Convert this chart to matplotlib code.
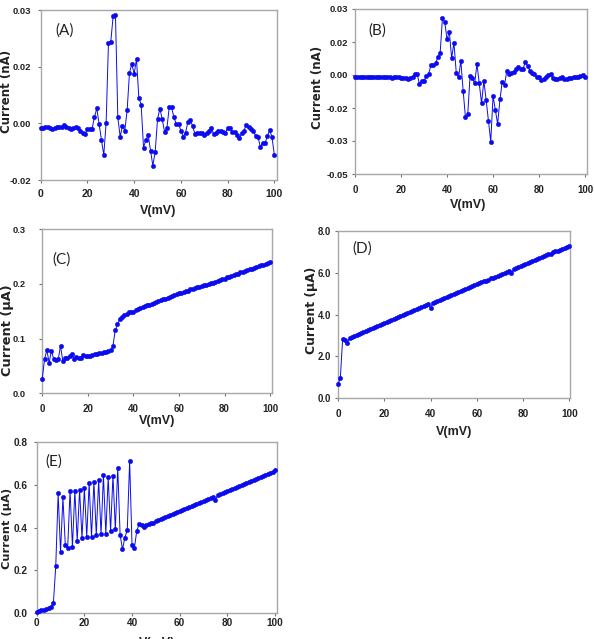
import matplotlib
matplotlib.use('Agg')
import matplotlib.pyplot as plt

W, H = 594, 639
fig = plt.figure(figsize=(W / 100, H / 100), dpi=100)

# ---------------- data ----------------
volts = list(range(0, 101))  # V (mV), 1 mV steps

cur_A = [-0.0013, -0.0013, -0.0009, -0.0011, -0.0013, -0.0016, -0.0013, -0.0009, -0.0011, -0.0009,
         -0.0005, -0.0009, -0.0013, -0.0016, -0.0013, -0.0011, -0.0013, -0.0019, -0.0025, -0.0029,
         -0.0016, -0.0016, -0.0014, 0.0016, 0.0040, -0.0002, -0.0044, -0.0084, 0.0002, 0.0212,
         0.0216, 0.0284, 0.0287, 0.0016, -0.0035, -0.0007, -0.0019, 0.0035, 0.0134, 0.0157,
         0.0131, 0.0170, 0.0068, 0.0049, -0.0064, -0.0044, -0.0031, -0.0072, -0.0112, -0.0075,
         0.0011, 0.0039, 0.0011, -0.0022, -0.0013, 0.0042, 0.0042, 0.0016, -0.0002, -0.0002,
         -0.0019, -0.0035, -0.0025, 0.0004, 0.0009, -0.0007, -0.0028, -0.0025, -0.0025, -0.0026,
         -0.0031, -0.0025, -0.0019, -0.0013, -0.0028, -0.0026, -0.0019, -0.0019, -0.0022, -0.0026,
         -0.0013, -0.0013, -0.0022, -0.0024, -0.0031, -0.0040, -0.0026, -0.0019, -0.0004, -0.0011,
         -0.0016, -0.0019, -0.0034, -0.0037, -0.0062, -0.0051, -0.0053, -0.0034, -0.0018, -0.0037,
         -0.0084]

cur_B = [-0.0010, -0.0008, -0.0008, -0.0009, -0.0008, -0.0010, -0.0009, -0.0010, -0.0011, -0.0010,
         -0.0011, -0.0010, -0.0009, -0.0009, -0.0010, -0.0011, -0.0012, -0.0010, -0.0008, -0.0011,
         -0.0013, -0.0012, -0.0013, -0.0016, -0.0015, -0.0010, 0.0004, 0.0004, -0.0041, -0.0027,
         -0.0026, -0.0005, 0.0004, 0.0045, 0.0045, 0.0053, 0.0080, 0.0098, 0.0258, 0.0242,
         0.0162, 0.0197, 0.0076, 0.0147, 0.0011, -0.0011, 0.0064, -0.0071, -0.0192, -0.0179,
         -0.0005, -0.0015, -0.0038, 0.0050, -0.0038, -0.0129, -0.0027, -0.0114, -0.0208, -0.0303,
         -0.0095, -0.0159, -0.0223, -0.0111, -0.0030, -0.0045, 0.0020, 0.0005, 0.0011, 0.0015,
         0.0026, 0.0038, 0.0027, 0.0027, 0.0058, 0.0041, 0.0020, 0.0011, 0.0004, -0.0011,
         -0.0011, -0.0023, -0.0018, -0.0008, 0.0000, 0.0004, -0.0015, -0.0018, -0.0018, -0.0012,
         -0.0011, -0.0018, -0.0020, -0.0012, -0.0012, -0.0008, -0.0011, -0.0008, -0.0003, 0.0000,
         -0.0008]

cur_C = [0.027, 0.063, 0.079, 0.056, 0.078, 0.063, 0.061, 0.062, 0.087, 0.059,
         0.064, 0.065, 0.068, 0.072, 0.063, 0.066, 0.064, 0.065, 0.070, 0.068,
         0.068, 0.069, 0.070, 0.071, 0.072, 0.073, 0.074, 0.075, 0.076, 0.077,
         0.079, 0.086, 0.115, 0.126, 0.136, 0.140, 0.143, 0.145, 0.148, 0.149,
         0.148, 0.152, 0.154, 0.156, 0.157, 0.159, 0.161, 0.162, 0.164, 0.166,
         0.167, 0.169, 0.170, 0.172, 0.173, 0.175, 0.177, 0.178, 0.180, 0.181,
         0.183, 0.184, 0.185, 0.187, 0.188, 0.190, 0.191, 0.192, 0.194, 0.195,
         0.197, 0.198, 0.199, 0.200, 0.202, 0.202, 0.204, 0.206, 0.207, 0.209,
         0.210, 0.212, 0.213, 0.215, 0.216, 0.218, 0.219, 0.221, 0.222, 0.224,
         0.225, 0.227, 0.228, 0.229, 0.231, 0.232, 0.234, 0.235, 0.237, 0.238,
         0.240]

cur_D = [0.68, 0.95, 2.82, 2.76, 2.63, 2.90, 2.94, 2.99, 3.03, 3.08,
         3.13, 3.17, 3.22, 3.27, 3.31, 3.36, 3.41, 3.45, 3.50, 3.55,
         3.59, 3.64, 3.69, 3.73, 3.78, 3.83, 3.87, 3.92, 3.97, 4.01,
         4.06, 4.11, 4.15, 4.20, 4.25, 4.29, 4.34, 4.39, 4.43, 4.48,
         4.31, 4.55, 4.60, 4.64, 4.69, 4.74, 4.78, 4.83, 4.88, 4.92,
         4.97, 5.02, 5.06, 5.11, 5.16, 5.20, 5.25, 5.30, 5.34, 5.39,
         5.44, 5.48, 5.53, 5.58, 5.62, 5.67, 5.72, 5.76, 5.81, 5.86,
         5.90, 5.95, 6.00, 6.04, 6.09, 5.98, 6.17, 6.21, 6.26, 6.31,
         6.35, 6.40, 6.45, 6.49, 6.54, 6.59, 6.63, 6.68, 6.73, 6.77,
         6.82, 6.87, 6.91, 6.96, 7.01, 7.05, 7.10, 7.15, 7.19, 7.24,
         7.29]

cur_E = [0.008, 0.011, 0.014, 0.017, 0.020, 0.024, 0.030, 0.047, 0.221, 0.559,
         0.287, 0.540, 0.318, 0.303, 0.572, 0.308, 0.571, 0.337, 0.577, 0.350,
         0.582, 0.357, 0.606, 0.357, 0.613, 0.365, 0.621, 0.368, 0.643, 0.370,
         0.634, 0.385, 0.642, 0.391, 0.679, 0.365, 0.298, 0.353, 0.388, 0.710,
         0.318, 0.306, 0.385, 0.416, 0.410, 0.404, 0.410, 0.414, 0.419, 0.423,
         0.428, 0.433, 0.438, 0.443, 0.447, 0.452, 0.457, 0.462, 0.466, 0.471,
         0.476, 0.481, 0.485, 0.490, 0.495, 0.500, 0.504, 0.509, 0.514, 0.519,
         0.523, 0.528, 0.533, 0.538, 0.542, 0.530, 0.550, 0.556, 0.561, 0.565,
         0.569, 0.574, 0.579, 0.584, 0.588, 0.593, 0.598, 0.603, 0.607, 0.612,
         0.617, 0.621, 0.626, 0.631, 0.636, 0.640, 0.645, 0.650, 0.655, 0.660,
         0.668]

x_ticks = [0, 20, 40, 60, 80, 100]
x_ticklabels = ['0', '20', '40', '60', '80', '100']

yt_A = [-0.015, 0.0, 0.015, 0.03]
ytl_A = ['-0.02', '0.00', '0.02', '0.03']
yt_B = [-0.045, -0.03, -0.015, 0.0, 0.015, 0.03]
ytl_B = ['-0.05', '-0.03', '-0.02', '0.00', '0.02', '0.03']
yt_C = [0.0, 0.1, 0.2, 0.3]
ytl_C = ['0.0', '0.1', '0.2', '0.3']
yt_D = [0, 2, 4, 6, 8]
ytl_D = ['0.0', '2.0', '4.0', '6.0', '8.0']
yt_E = [0.0, 0.2, 0.4, 0.6, 0.8]
ytl_E = ['0.0', '0.2', '0.4', '0.6', '0.8']

# ---------------- styling ----------------
BLUE = '#0b0bef'
SPINE = '#a8a8a8'
TICKC = '#707070'
TICKFONT = 'Liberation Sans'
YLABFONT = 'DejaVu Sans'


def rect(l, t, r, b):
    return [l / W, 1 - b / H, (r - l) / W, (b - t) / H]


panels = [
    dict(name='(A)', r=(40.7, 10, 276.7, 180), y=cur_A, ylim=(-0.015, 0.03), yt=yt_A, ytl=ytl_A,
         xmax=101.0, ylab='Current (nA)', yls=8.5, yts=6.8, xts=7.5, ypad=4.8, xpad=4.3,
         ylc=(7, 91), xlc=(158, 210.5), plc=(64.5, 31)),
    dict(name='(B)', r=(355, 9, 586.7, 174), y=cur_B, ylim=(-0.045, 0.03), yt=yt_B, ytl=ytl_B,
         xmax=100.7, ylab='Current (nA)', yls=8.5, yts=6.8, xts=7.0, ypad=2.9, xpad=5.4,
         ylc=(318, 87), xlc=(468, 205), plc=(377, 31)),
    dict(name='(C)', r=(42.3, 229.3, 271.7, 393.3), y=cur_C, ylim=(0, 0.3), yt=yt_C, ytl=ytl_C,
         xmax=100.7, ylab='Current (\u00b5A)', yls=9.3, yts=6.7, xts=7.0, ypad=9.4, xpad=5.5,
         ylc=(7.5, 330), xlc=(157, 421), plc=(62, 260)),
    dict(name='(D)', r=(338, 230.7, 570, 398.3), y=cur_D, ylim=(0, 8), yt=yt_D, ytl=ytl_D,
         xmax=100.3, ylab='Current (\u00b5A)', yls=8.9, yts=6.9, xts=7.2, ypad=2.9, xpad=5.5,
         ylc=(312, 310), xlc=(454, 432), plc=(362, 249)),
    dict(name='(E)', r=(36.7, 441.7, 276.7, 613.3), y=cur_E, ylim=(0, 0.8), yt=yt_E, ytl=ytl_E,
         xmax=100.7, ylab='Current (\u00b5A)', yls=8.2, yts=7.2, xts=7.2, ypad=4.1, xpad=0.8,
         ylc=(7, 528), xlc=(157, 643), plc=(53.5, 462)),
]

for p in panels:
    l, t, r, b = p['r']
    ax = fig.add_axes(rect(l, t, r, b))
    ax.plot(volts, p['y'], color=BLUE, lw=0.7, marker='o', ms=3.2,
            mfc=BLUE, mec=BLUE, mew=0.3, clip_on=False, zorder=3)
    ax.set_xlim(0, p['xmax'])
    ax.set_ylim(*p['ylim'])
    ax.set_xticks(x_ticks)
    ax.set_xticklabels(x_ticklabels, fontfamily=TICKFONT, fontweight='bold', fontsize=p['xts'],
                       color='#222222')
    ax.set_yticks(p['yt'])
    ax.set_yticklabels(p['ytl'], fontfamily=TICKFONT, fontweight='bold', fontsize=p['yts'],
                       color='#222222')
    for s in ax.spines.values():
        s.set_color(SPINE)
        s.set_linewidth(1.0)
    ax.tick_params(axis='both', direction='out', length=2.3, width=0.8, color=TICKC,
                   top=False, right=False)
    ax.tick_params(axis='y', pad=p['ypad'])
    ax.tick_params(axis='x', pad=p['xpad'])

    ax.set_ylabel(p['ylab'], fontfamily=YLABFONT, fontweight='bold', fontsize=p['yls'],
                  color='#222222', va='center', ha='center')
    ax.yaxis.set_label_coords((p['ylc'][0] - l) / (r - l), (b - p['ylc'][1]) / (b - t))
    ax.set_xlabel('V(mV)', fontfamily=TICKFONT, fontweight='bold', fontsize=9,
                  color='#222222', va='center', ha='center')
    ax.xaxis.set_label_coords((p['xlc'][0] - l) / (r - l), (b - p['xlc'][1]) / (b - t))

    fig.text(p['plc'][0] / W, 1 - p['plc'][1] / H, p['name'], fontfamily='Lato',
             fontsize=11, color='#222222', ha='center', va='center')

fig.savefig('out.png', dpi=100)
